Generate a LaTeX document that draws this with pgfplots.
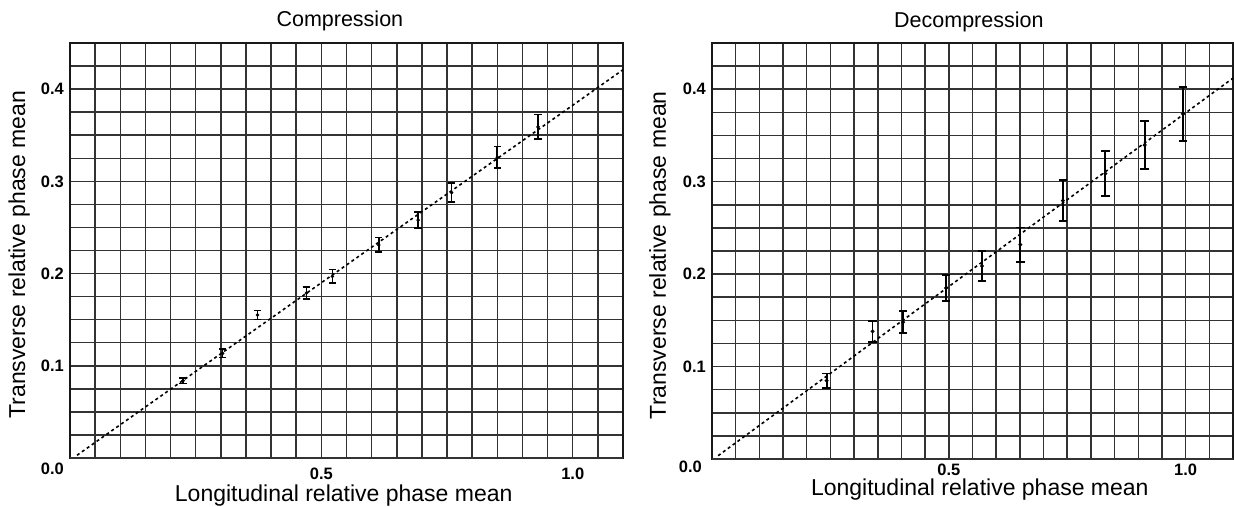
\documentclass[border=0pt]{standalone}
\usepackage{fontspec}
\setmainfont{Liberation Sans}
\usepackage{pgfplots}
\pgfplotsset{compat=1.18}

\pgfplotstableread{
x y e
0.225 0.0838 0.0030
0.3035 0.1135 0.0045
0.373 0.155 0.0049
0.4705 0.179 0.0067
0.522 0.197 0.0074
0.614 0.231 0.0080
0.6925 0.258 0.0087
0.759 0.2878 0.0100
0.850 0.326 0.0117
0.931 0.359 0.0134
}\compdata

\pgfplotstableread{
x y e
0.242 0.0847 0.0078
0.339 0.138 0.0114
0.4036 0.148 0.0117
0.494 0.185 0.0140
0.570 0.2088 0.0164
0.651 0.2319 0.0186
0.741 0.2795 0.0220
0.8305 0.3086 0.0243
0.9135 0.3396 0.0260
0.994 0.3733 0.0290
}\decompdata

\pgfplotsset{
  panel/.style={
    scale only axis,
    anchor=south west,
    clip=false,
    xmin=0, xmax=1.1, ymin=0, ymax=0.45,
    xtick={0.5,1.0}, xticklabels={0.5,1.0},
    ytick={0.1,0.2,0.3,0.4}, yticklabels={0.1,0.2,0.3,0.4},
    minor xtick={0,0.05,0.1,0.15,0.2,0.25,0.3,0.35,0.4,0.45,0.5,0.55,0.6,0.65,0.7,0.75,0.8,0.85,0.9,0.95,1,1.05,1.1},
    minor ytick={0.025,0.05,0.075,0.125,0.15,0.175,0.225,0.25,0.275,0.325,0.35,0.375,0.425},
    extra y ticks={0},
    extra y tick labels={0.0},
    xmajorgrids=false, xminorgrids=true,
    ymajorgrids=true, yminorgrids=true,
    major grid style={black!80, line width=1.5pt},
    minor grid style={black!80, line width=1.5pt},
    tick style={draw=none},
    major tick length=0pt, minor tick length=0pt,
    axis line style={black!90, line width=1.8pt},
    ticklabel style={font=\bfseries\fontsize{16.5}{18}\selectfont},
    yticklabel style={anchor=east, inner sep=0pt, xshift=-6pt},
    xticklabel style={anchor=north, inner sep=0pt},
    xlabel style={font=\fontsize{23}{26}\selectfont},
    ylabel style={anchor=center, font=\fontsize{23}{26}\selectfont},
  },
  fitline/.style={black, line width=1.6pt, dash pattern=on 3pt off 3pt},
}

\begin{document}
\begin{tikzpicture}
\useasboundingbox (0,0) rectangle (1234pt,506pt);

\begin{axis}[panel,
  at={(70pt,48pt)}, width=553pt, height=415pt,
  xlabel={Longitudinal relative phase mean},
  xlabel style={at={(axis description cs:0.495,0)}, anchor=base, yshift=-43pt},
  ylabel={Transverse relative phase mean},
  ylabel style={at={(axis description cs:-0.092,0.49)}},
  xticklabel style={yshift=-10pt},
  extra y tick style={yticklabel style={yshift=-11pt}},
]
\addplot[fitline] coordinates {(0.014,0.003) (1.1,0.421)};
\addplot[black, only marks, mark=*, mark size=1.6pt,
  error bars/.cd, y dir=both, y explicit,
  error bar style={line width=1.8pt, black},
  error mark options={rotate=90, mark size=3.8pt, line width=1.8pt, black}]
  table[x=x, y=y, y error=e] {\compdata};
\node[anchor=base, inner sep=0pt, font=\fontsize{21.5}{24}\selectfont, yshift=17pt]
  at (axis description cs:0.488,1) {Compression};
\end{axis}

\begin{axis}[panel,
  at={(712pt,47pt)}, width=521pt, height=416pt,
  xlabel={Longitudinal relative phase mean},
  xlabel style={at={(axis description cs:0.514,0)}, anchor=base, yshift=-37pt},
  ylabel={Transverse relative phase mean},
  ylabel style={at={(axis description cs:-0.1,0.49)}},
  xticklabel style={yshift=-5pt},
  extra y tick style={yticklabel style={yshift=-8pt, xshift=-4pt}},
]
\addplot[fitline] coordinates {(0.013,0.0036) (1.1,0.412)};
\addplot[black, only marks, mark=o, mark size=1.5pt, mark options={line width=0.9pt},
  error bars/.cd, y dir=both, y explicit,
  error bar style={line width=1.8pt, black},
  error mark options={rotate=90, mark size=4.2pt, line width=1.8pt, black}]
  table[x=x, y=y, y error=e] {\decompdata};
\node[anchor=base, inner sep=0pt, font=\fontsize{21.5}{24}\selectfont, yshift=15pt]
  at (axis description cs:0.493,1) {Decompression};
\end{axis}
\end{tikzpicture}
\end{document}
